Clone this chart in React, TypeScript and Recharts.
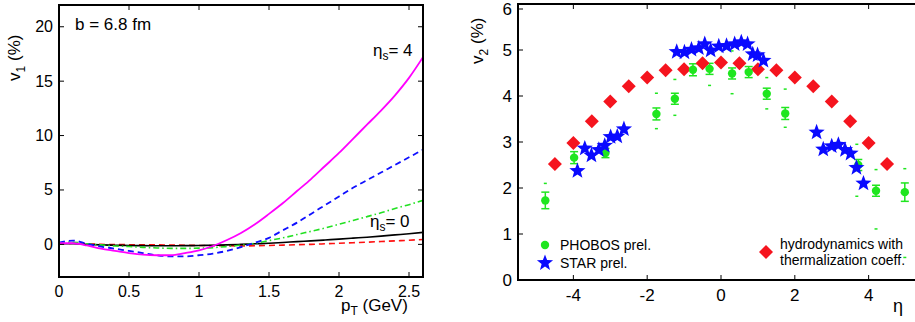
import React from 'react';
import { LineChart, Line, ScatterChart, Scatter, XAxis, YAxis, ErrorBar } from 'recharts';

// left panel: v1 vs pT at b = 6.8 fm
const pT = [0, 0.1, 0.2, 0.3, 0.4, 0.5, 0.6, 0.7, 0.8, 0.9, 1.0, 1.1, 1.2, 1.3, 1.4, 1.5, 1.6, 1.7, 1.8, 1.9, 2.0, 2.1, 2.2, 2.3, 2.4, 2.5, 2.6];
const v1Eta4 = [0.1, 0.1, -0.1, -0.4, -0.6, -0.8, -0.95, -1.0, -1.0, -0.8, -0.55, -0.15, 0.4, 1.05, 1.85, 2.8, 3.8, 4.9, 6.0, 7.2, 8.4, 9.7, 11.0, 12.3, 13.7, 15.3, 17.2];
const v1Blue = [0.15, 0.35, 0.05, -0.2, -0.4, -0.6, -0.8, -1.0, -1.1, -1.1, -1.0, -0.85, -0.6, -0.25, 0.15, 0.6, 1.3, 2.0, 2.8, 3.6, 4.4, 5.2, 5.9, 6.6, 7.3, 8.0, 8.7];
const v1Green = [0.15, 0.2, 0.05, -0.05, -0.15, -0.2, -0.28, -0.33, -0.37, -0.37, -0.35, -0.3, -0.2, -0.08, 0.1, 0.35, 0.6, 0.9, 1.2, 1.5, 1.85, 2.2, 2.55, 2.9, 3.3, 3.65, 4.05];
const v1Eta0 = [0.05, 0.05, 0, -0.05, -0.08, -0.1, -0.12, -0.13, -0.13, -0.12, -0.1, -0.08, -0.05, 0, 0.05, 0.1, 0.17, 0.25, 0.32, 0.4, 0.48, 0.57, 0.66, 0.76, 0.87, 0.98, 1.1];
const v1Red = [0.05, 0.1, 0.05, 0, -0.02, -0.03, -0.04, -0.05, -0.06, -0.08, -0.1, -0.12, -0.13, -0.14, -0.13, -0.1, -0.07, -0.03, 0, 0.05, 0.1, 0.15, 0.2, 0.26, 0.32, 0.38, 0.45];
const pTTicks = [0, 0.5, 1, 1.5, 2, 2.5];
const v1Ticks = [0, 5, 10, 15, 20];

// right panel: v2 vs eta
const phobosEta = [-4.76, -3.98, -3.13, -1.75, -1.25, -0.76, -0.31, 0.3, 0.75, 1.24, 1.74, 3.72, 4.2, 4.98];
const phobosV2 = [1.73, 2.66, 2.76, 3.61, 3.94, 4.57, 4.59, 4.49, 4.52, 4.05, 3.62, 2.5, 1.94, 1.91];
const phobosErr = [0.18, 0.13, 0.1, 0.13, 0.12, 0.13, 0.12, 0.12, 0.12, 0.12, 0.13, 0.12, 0.12, 0.2];
const sysEta = [-4.76, -4.76, -1.75, -1.75, -1.25, -1.25, -0.31, 0.3, 0.3, 1.24, 1.24, 1.74, 1.74, 3.68, 3.68, 4.2, 4.2, 4.98, 4.98];
const sysV2 = [2.1, 0.0, 4.06, 3.29, 4.36, 3.58, 4.23, 4.98, 4.05, 4.4, 3.72, 4.15, 3.32, 2.95, 1.82, 2.4, 1.11, 2.42, 0.49];
const starEta = [-3.89, -3.69, -3.51, -3.31, -3.15, -2.99, -2.81, -2.63, -1.2, -0.99, -0.8, -0.6, -0.44, -0.28, -0.06, 0.15, 0.37, 0.55, 0.72, 0.86, 0.99, 1.15, 2.59, 2.77, 3.0, 3.18, 3.36, 3.51, 3.67, 3.86];
const starV2 = [2.37, 2.86, 2.71, 2.83, 2.92, 3.11, 3.12, 3.28, 4.96, 4.95, 5.01, 5.04, 5.13, 4.99, 5.08, 5.09, 5.13, 5.17, 5.13, 4.91, 4.89, 4.77, 3.21, 2.84, 2.91, 2.94, 2.83, 2.75, 2.44, 2.1];
const hydroEta = [-4.5, -4, -3.5, -3, -2.5, -2, -1.5, -1, -0.5, 0, 0.5, 1, 1.5, 2, 2.5, 3, 3.5, 4, 4.5];
const hydroV2 = [2.52, 2.98, 3.45, 3.88, 4.21, 4.4, 4.56, 4.58, 4.71, 4.73, 4.71, 4.58, 4.56, 4.4, 4.21, 3.88, 3.45, 2.98, 2.52];
const etaTicks = [-4, -2, 0, 2, 4];
const v2Ticks = [0, 1, 2, 3, 4, 5, 6];

const v1Data = pT.map((p, i) => ({ pT: p, eta4: v1Eta4[i], blue: v1Blue[i], green: v1Green[i], eta0: v1Eta0[i], red: v1Red[i] }));
const phobosData = phobosEta.map((e, i) => ({ eta: e, v2: phobosV2[i], err: phobosErr[i] }));
const sysData = sysEta.map((e, i) => ({ eta: e, v2: sysV2[i] }));
const starData = starEta.map((e, i) => ({ eta: e, v2: starV2[i] }));
const hydroData = hydroEta.map((e, i) => ({ eta: e, v2: hydroV2[i] }));

const FONT = '"Liberation Sans", Arial, Helvetica, sans-serif';
const GREEN = '#1fe61f';
const BLUE = '#0a0aff';
const RED = '#f5141e';

const starPoints = (cx: number, cy: number, r: number) => {
  const pts: string[] = [];
  for (let k = 0; k < 10; k++) {
    const a = -Math.PI / 2 + (k * Math.PI) / 5;
    const rr = k % 2 === 0 ? r : r * 0.42;
    pts.push(`${cx + rr * Math.cos(a)},${cy + rr * Math.sin(a)}`);
  }
  return pts.join(' ');
};

const Star = (p: any) => <polygon points={starPoints(p.cx, p.cy, 8.5)} fill={BLUE} />;
const Diamond = (p: any) => (
  <polygon points={`${p.cx},${p.cy - 7} ${p.cx + 7},${p.cy} ${p.cx},${p.cy + 7} ${p.cx - 7},${p.cy}`} fill={RED} />
);
const Dot = (p: any) => <circle cx={p.cx} cy={p.cy} r={4.2} fill={GREEN} />;
const SysMark = (p: any) => <line x1={p.cx - 1.5} x2={p.cx + 1.5} y1={p.cy} y2={p.cy} stroke={GREEN} strokeWidth={1.5} />;

// ticks pointing into the box, mirrored on the opposite side
const makeBottomTick = (plotTop: number, dy: number, fs: number) => (p: any) => (
  <g>
    <line x1={p.x} x2={p.x} y1={p.y} y2={p.y - 5} stroke="#000" strokeWidth={1} />
    <line x1={p.x} x2={p.x} y1={plotTop} y2={plotTop + 5} stroke="#000" strokeWidth={1} />
    <text x={p.x} y={p.y + dy} textAnchor="middle" dominantBaseline="central" fontSize={fs} fontFamily={FONT} fill="#000">
      {p.payload.value < 0 ? '-' + Math.abs(p.payload.value) : p.payload.value}
    </text>
  </g>
);
const makeLeftTick = (plotRight: number, dx: number, fs: number) => (p: any) => (
  <g>
    <line x1={p.x} x2={p.x + 5} y1={p.y} y2={p.y} stroke="#000" strokeWidth={1} />
    <line x1={plotRight - 5} x2={plotRight} y1={p.y} y2={p.y} stroke="#000" strokeWidth={1} />
    <text x={p.x - dx} y={p.y} textAnchor="end" dominantBaseline="central" fontSize={fs} fontFamily={FONT} fill="#000">
      {p.payload.value}
    </text>
  </g>
);

const abs = (left: number, top: number, extra: React.CSSProperties = {}): React.CSSProperties => ({
  position: 'absolute', left, top, fontFamily: FONT, color: '#000', whiteSpace: 'nowrap', ...extra,
});

export default function App() {
  return (
    <div style={{ position: 'absolute', left: 0, top: 0, width: 915, height: 322, overflow: 'hidden', background: '#fff' }}>
      {/* left panel */}
      <div style={{ position: 'absolute', left: 0, top: 0 }}>
        <LineChart width={460} height={322} data={v1Data} margin={{ top: 5, right: 37, bottom: 0, left: 0 }}>
          <XAxis dataKey="pT" type="number" domain={[0, 2.6]} ticks={pTTicks} allowDataOverflow
            axisLine={false} tickLine={false} tickSize={0} tickMargin={0} height={45} tick={makeBottomTick(5, 14, 16)} />
          <YAxis type="number" domain={[-3, 22]} ticks={v1Ticks} allowDataOverflow width={59}
            axisLine={false} tickLine={false} tickSize={0} tickMargin={0} tick={makeLeftTick(423, 6, 16)} />
          <Line dataKey="red" type="monotone" stroke="#ff1010" strokeWidth={1.6} strokeDasharray="6 4" dot={false} isAnimationActive={false} />
          <Line dataKey="eta0" type="monotone" stroke="#000" strokeWidth={1.6} dot={false} isAnimationActive={false} />
          <Line dataKey="green" type="monotone" stroke="#22e022" strokeWidth={1.6} strokeDasharray="6 3 1.5 3" dot={false} isAnimationActive={false} />
          <Line dataKey="blue" type="monotone" stroke="#1010ff" strokeWidth={1.8} strokeDasharray="6 4" dot={false} isAnimationActive={false} />
          <Line dataKey="eta4" type="monotone" stroke="#ff00ff" strokeWidth={1.8} dot={false} isAnimationActive={false} />
        </LineChart>
      </div>
      <div style={{ position: 'absolute', left: 58, top: 4, width: 366, height: 274, border: '2px solid #000', boxSizing: 'border-box' }} />
      <div style={abs(75, 15, { fontSize: 17, lineHeight: '20px' })}>b = 6.8 fm</div>
      <div style={abs(373, 41, { fontSize: 17, lineHeight: '20px' })}>η<sub style={{ fontSize: 12 }}>s</sub>= 4</div>
      <div style={abs(370, 212, { fontSize: 17, lineHeight: '20px' })}>η<sub style={{ fontSize: 12 }}>s</sub>= 0</div>
      <div style={abs(-14, 45, { fontSize: 17, lineHeight: '20px', transform: 'rotate(-90deg)', width: 64, textAlign: 'center' })}>
        v<sub style={{ fontSize: 12 }}>1</sub> (%)
      </div>
      <div style={abs(341, 296, { fontSize: 17, lineHeight: '20px' })}>p<sub style={{ fontSize: 12 }}>T</sub> (GeV)</div>

      {/* right panel */}
      <div style={{ position: 'absolute', left: 460, top: 0 }}>
        <ScatterChart width={474} height={322} margin={{ top: 4, right: 10, bottom: 0, left: 0 }}>
          <XAxis dataKey="eta" type="number" domain={[-5.5, 5.5]} ticks={etaTicks} allowDataOverflow
            axisLine={false} tickLine={false} tickSize={0} tickMargin={0} height={42} tick={makeBottomTick(4, 15, 17)} />
          <YAxis dataKey="v2" type="number" domain={[0, 6]} ticks={v2Ticks} allowDataOverflow width={58}
            axisLine={false} tickLine={false} tickSize={0} tickMargin={0} tick={makeLeftTick(464, 6, 17)} />
          <Scatter data={sysData} shape={SysMark} isAnimationActive={false} />
          <Scatter data={hydroData} shape={Diamond} isAnimationActive={false} />
          <Scatter data={phobosData} shape={Dot} isAnimationActive={false}>
            <ErrorBar dataKey="err" direction="y" width={4} stroke={GREEN} strokeWidth={1.5} />
          </Scatter>
          <Scatter data={starData} shape={Star} isAnimationActive={false} />
        </ScatterChart>
      </div>
      <div style={{ position: 'absolute', left: 517, top: 3, width: 420, height: 278, border: '2px solid #000', boxSizing: 'border-box' }} />
      <div style={abs(449, 28, { fontSize: 17, lineHeight: '20px', transform: 'rotate(-90deg)', width: 64, textAlign: 'center' })}>
        v<sub style={{ fontSize: 12 }}>2</sub> (%)
      </div>
      <div style={abs(893, 296, { fontSize: 18, lineHeight: '20px' })}>η</div>
      {/* legend */}
      <svg style={{ position: 'absolute', left: 0, top: 0 }} width={915} height={322}>
        <circle cx={545} cy={245} r={4.2} fill={GREEN} />
        <polygon points={starPoints(545, 263, 8.5)} fill={BLUE} />
        <polygon points="766,245 773,252 766,259 759,252" fill={RED} />
      </svg>
      <div style={abs(560, 237, { fontSize: 14, lineHeight: '16px' })}>PHOBOS prel.</div>
      <div style={abs(560, 255, { fontSize: 14, lineHeight: '16px' })}>STAR prel.</div>
      <div style={abs(780, 236, { fontSize: 14, lineHeight: '16px' })}>hydrodynamics with<br />thermalization coeff.</div>
    </div>
  );
}
